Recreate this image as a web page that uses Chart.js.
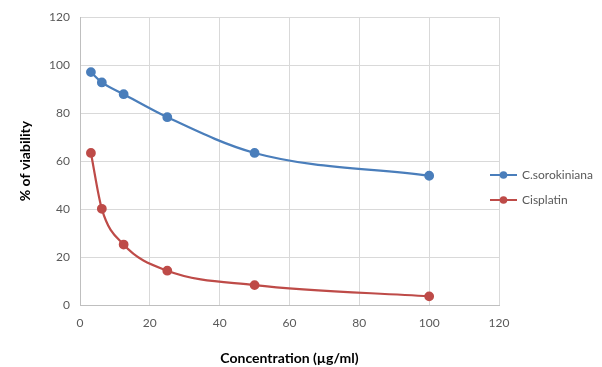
<!DOCTYPE html>
<html>
<head>
<meta charset="utf-8">
<script src="https://cdn.jsdelivr.net/npm/chart.js@4/dist/chart.umd.min.js"></script>
<style>
  html, body { margin: 0; padding: 0; background: #fff; }
  #wrap { width: 602px; height: 367px; }
</style>
</head>
<body>
<div id="wrap"><canvas id="grafico"></canvas></div>
<script>
// concentraciones (µg/ml) y % de viabilidad
const concentraciones = [3.125, 6.25, 12.5, 25, 50, 100];
const sorokiniana = [97.1, 92.8, 87.9, 78.3, 63.4, 53.9];
const cisplatino = [63.4, 40.1, 25.2, 14.3, 8.3, 3.6];
const ticksX = [0, 20, 40, 60, 80, 100, 120];
const ticksY = [0, 20, 40, 60, 80, 100, 120];

const FUENTE = "Lato, 'Open Sans', sans-serif";
const GRIS = "#595959";

const series = [
  { nombre: "C.sorokiniana", valores: sorokiniana, color: "#4a7ebb" },
  { nombre: "Cisplatin", valores: cisplatino, color: "#be4b48" }
];

// leyenda dibujada a mano: linea + punto como en Excel
const leyenda = {
  id: "leyenda",
  afterDraw(chart) {
    const ctx = chart.ctx;
    ctx.save();
    chart.data.datasets.forEach((ds, i) => {
      const y = 175 + i * 25;
      ctx.strokeStyle = ds.borderColor;
      ctx.lineWidth = 2;
      ctx.beginPath();
      ctx.moveTo(490, y);
      ctx.lineTo(517, y);
      ctx.stroke();
      ctx.fillStyle = ds.borderColor;
      ctx.beginPath();
      ctx.arc(503.5, y, 3.8, 0, Math.PI * 2);
      ctx.fill();
      ctx.fillStyle = GRIS;
      ctx.font = "12px " + FUENTE;
      ctx.textBaseline = "middle";
      ctx.fillText(ds.label, 522, y);
    });
    ctx.restore();
  }
};

new Chart(document.getElementById("grafico"), {
  type: "line",
  data: {
    datasets: series.map(s => ({
      label: s.nombre,
      data: concentraciones.map((c, i) => ({ x: c, y: s.valores[i] })),
      borderColor: s.color,
      backgroundColor: s.color,
      borderWidth: 2.2,
      pointRadius: 3.8,
      pointHoverRadius: 3.8,
      cubicInterpolationMode: "monotone",
      fill: false
    }))
  },
  options: {
    responsive: true,
    maintainAspectRatio: false,
    animation: false,
    layout: { padding: { top: 15, right: 103, left: 0, bottom: 0 } },
    plugins: { legend: { display: false }, tooltip: { enabled: false } },
    scales: {
      x: {
        type: "linear",
        min: 0,
        max: 120,
        afterBuildTicks: s => { s.ticks = ticksX.map(v => ({ value: v })); },
        afterFit: s => { s.height = 62; },
        grid: { color: "#d9d9d9", drawTicks: false },
        border: { color: "#bfbfbf" },
        ticks: { color: GRIS, font: { family: FUENTE, size: 12 }, padding: 11 },
        title: {
          display: true,
          text: "Concentration (µg/ml)",
          color: "#000",
          font: { family: FUENTE, size: 14, weight: "bold" },
          padding: { top: 4, bottom: 0 }
        }
      },
      y: {
        min: 0,
        max: 120,
        afterBuildTicks: s => { s.ticks = ticksY.map(v => ({ value: v })); },
        afterFit: s => { s.width = 80; },
        grid: { color: "#d9d9d9", drawTicks: false },
        border: { color: "#bfbfbf" },
        ticks: { color: GRIS, font: { family: FUENTE, size: 12 }, padding: 10 },
        title: {
          display: true,
          text: "% of viability",
          color: "#000",
          font: { family: FUENTE, size: 14, weight: "bold" },
          padding: { top: 17, bottom: 0 }
        }
      }
    }
  },
  plugins: [leyenda]
});
</script>
</body>
</html>
